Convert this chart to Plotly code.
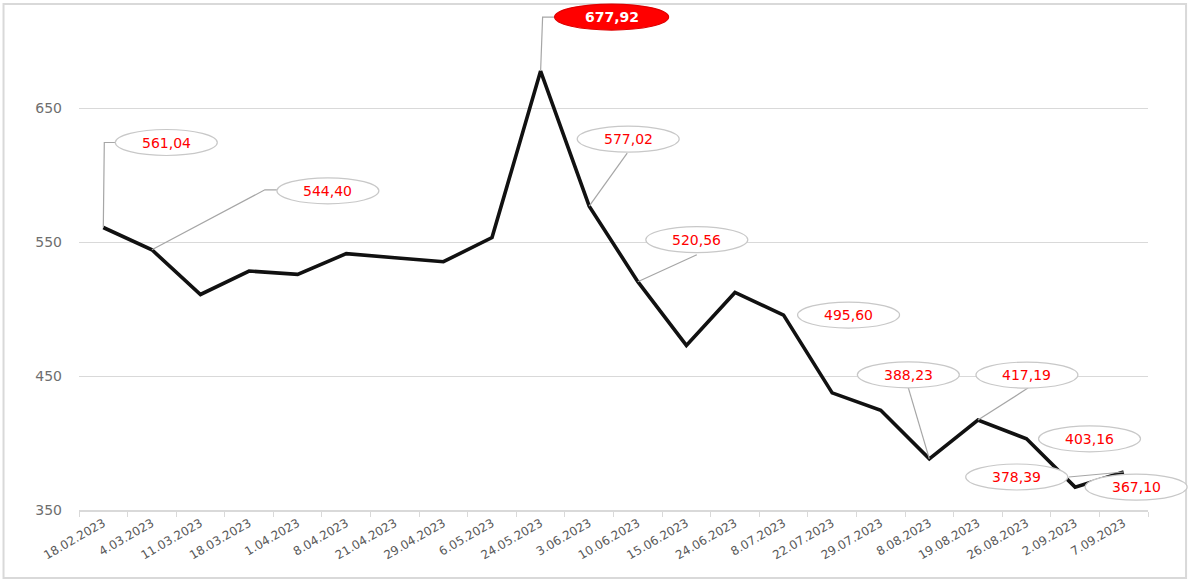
import plotly.graph_objects as go

dates = ["18.02.2023", "4.03.2023", "11.03.2023", "18.03.2023", "1.04.2023", "8.04.2023",
         "21.04.2023", "29.04.2023", "6.05.2023", "24.05.2023", "3.06.2023", "10.06.2023",
         "15.06.2023", "24.06.2023", "8.07.2023", "22.07.2023", "29.07.2023", "8.08.2023",
         "19.08.2023", "26.08.2023", "2.09.2023", "7.09.2023"]
prices = [561.04, 544.40, 511.0, 528.5, 526.0, 541.5,
          538.5, 535.5, 553.5, 677.92, 577.02, 520.56,
          473.0, 512.5, 495.60, 437.5, 424.5, 388.23,
          417.19, 403.16, 367.10, 378.39]

y_ticks = [350, 450, 550, 650]

# labelled points: index -> (ellipse centre offset dx, dy in px, leader path)
label_idx = [0, 1, 9, 10, 11, 14, 17, 18, 19, 20, 21]
label_dx = [63, 176, 71, 39, 59, 65, -21, 49, 63, 61, -107]
label_dy = [85, 59, 54, 67, 42, 0, 84, 45, 0, 0, -5]
leaders = {
    0: "M0,0 L1,85 L13,85",
    1: "M0,0 L113,60 L125,60",
    9: "M0,0 L2,54 L14,54",
    10: "M0,0 L38,53",
    11: "M0,0 L59,27",
    17: "M0,0 L-21,71",
    18: "M0,0 L50,32",
    21: "M0,0 L-55,-5",
}
peak_idx = 9
# callouts that stick out past the right edge of the plot area (not clipped in x)
overflow_idx = [20]


def fmt(v):
    return f"{v:.2f}".replace(".", ",")


fig = go.Figure()
fig.add_trace(go.Scatter(
    x=dates, y=prices, mode="lines",
    line=dict(color="#111111", width=3.6),
    hoverinfo="skip", showlegend=False,
))

n = len(dates)
shapes = []
annotations = []
for i, dx, dy in zip(label_idx, label_dx, label_dy):
    v = prices[i]
    if i in overflow_idx:
        xref, xanc = "x domain", (i + 0.5) / n
    else:
        xref, xanc = "x", dates[i]
    if i in leaders:
        shapes.append(dict(
            type="path", xref=xref, yref="y", xsizemode="pixel", ysizemode="pixel",
            xanchor=xanc, yanchor=v, path=leaders[i],
            line=dict(color="#a6a6a6", width=1.2), layer="above",
        ))
    peak = (i == peak_idx)
    hw = 57 if peak else 51
    hh = 13
    shapes.append(dict(
        type="circle", xref=xref, yref="y", xsizemode="pixel", ysizemode="pixel",
        xanchor=xanc, yanchor=v,
        x0=dx - hw, x1=dx + hw, y0=dy - hh, y1=dy + hh,
        fillcolor="#ff0000" if peak else "white",
        line=dict(color="#e00000" if peak else "#c8c8c8", width=1.2),
        layer="above",
    ))
    annotations.append(dict(
        x=dates[i], y=v, xref="x", yref="y", xshift=dx, yshift=dy,
        text=f"<b>{fmt(v)}</b>" if peak else fmt(v), showarrow=False,
        font=dict(family="DejaVu Sans", size=14, color="white" if peak else "#ff0000"),
        xanchor="center", yanchor="middle",
    ))

# outer chart border
shapes.append(dict(
    type="rect", xref="paper", yref="paper",
    x0=-0.0706, x1=1.0356, y0=-0.1333, y1=0.992,
    line=dict(color="#d9d9d9", width=2), fillcolor="rgba(0,0,0,0)", layer="below",
))

fig.update_layout(
    width=1193, height=581,
    margin=dict(l=79, r=45, t=0, b=71),
    paper_bgcolor="white", plot_bgcolor="white",
    shapes=shapes, annotations=annotations,
    hovermode=False,
    xaxis=dict(
        type="category", categoryorder="array", categoryarray=dates,
        tickangle=-30, tickson="boundaries",
        ticks="outside", ticklen=5, tickcolor="#d9d9d9", tickwidth=1,
        showline=True, linecolor="#d9d9d9", linewidth=1.5,
        showgrid=False, zeroline=False,
        tickfont=dict(family="DejaVu Sans", size=12, color="#595959"),
        range=[-0.5, n - 0.5],
    ),
    yaxis=dict(
        range=[350, 731], tickvals=y_ticks, ticktext=[str(t) for t in y_ticks],
        showgrid=True, gridcolor="#d9d9d9", gridwidth=1,
        zeroline=False, showline=False, ticks="",
        ticklabelstandoff=16,
        tickfont=dict(family="DejaVu Sans", size=14, color="#6e6e6e"),
    ),
)

fig.write_html("out.html", config={"displayModeBar": False},
               post_script="document.body.style.margin='0';")
